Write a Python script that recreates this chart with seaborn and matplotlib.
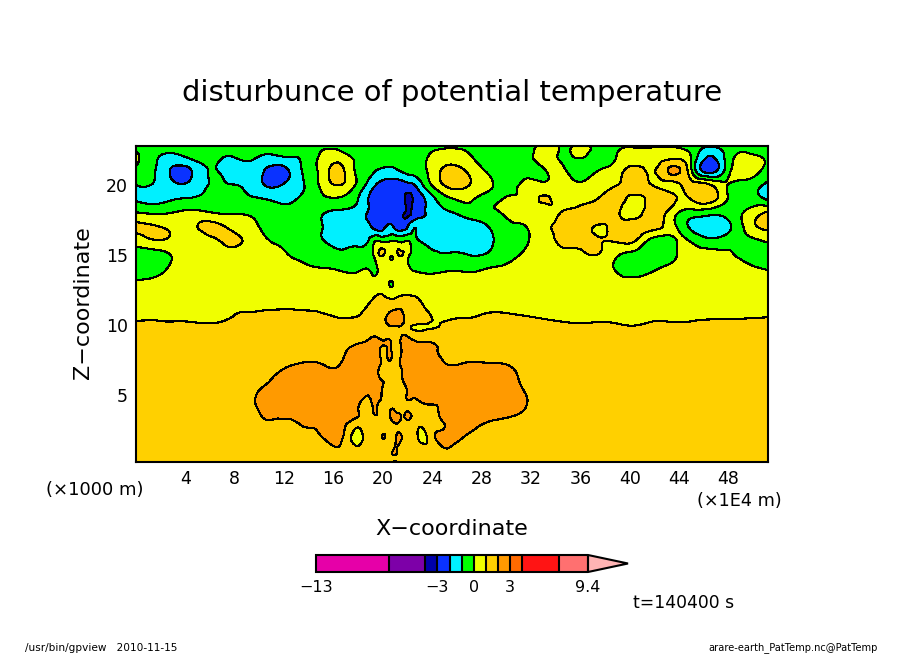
import numpy as np
import matplotlib
matplotlib.use("Agg")
import matplotlib.pyplot as plt
import matplotlib.tri as mtri
import seaborn as sns

# grid nodes
x_nodes = [0, 1.5, 3, 4.5, 6, 7.5, 9, 10.5, 12, 13.5,
           15, 16.5, 18, 19, 19.5, 20, 20.5, 21, 21.5, 22,
           22.5, 23, 24, 25.5, 27, 28.5, 30, 31.5, 33, 34.5,
           36, 37.5, 39, 40.5, 42, 44, 45, 46.5, 48, 49.5, 51.2]
z_nodes = [22.8, 22, 21, 20, 19, 18, 17, 16, 15, 14, 13, 12, 11, 10, 9, 8, 7, 6, 5, 4, 3, 2, 1, 0.2]

# potential temperature disturbance, one list per height
z228 = [-.4,-.4,-.4,-.4,-.4,-.4,-.4,-.3,-.4,-.4,
        -.2,-.1,-.4,-.5,-.5,-.5,-.5,-.5,-.5,-.4,
        -.4,-.3,-.2,-.1,-.1,-.4,-.5,-.5,.3,-.1,
        .2,-.4,-.2,-.1,-.1,-.1,-.4,-.9,-.4,-.2,-.3]
z22 = [.2,-.8,-1.3,-.8,-.6,-1.05,-.8,-1.2,-1.05,-.9,
       .2,.5,-.3,-.6,-.7,-.7,-.7,-.7,-.6,-.5,
       -.4,-.3,.2,.5,.1,-.3,-.5,-.5,.4,-.1,
       .05,-.4,.05,.4,.5,.8,-.1,-2.1,-.5,.2,-.1]
z21 = [-.3,-.95,-2.2,-2.02,-.95,-1.3,-1.3,-2.1,-2.3,-.95,
       .3,1.3,-.3,-.8,-1.05,-1.2,-1.3,-1.2,-.95,-.7,
       -.6,-.4,.4,1.4,.8,-.1,-.5,-.3,-.1,.15,
       -.4,.05,.6,1.4,.95,2.1,.1,-2.4,-.3,.4,-.3]
z20 = [-1.,-1.1,-1.8,-1.7,-.95,-.95,-1.2,-2.05,-1.9,-1.1,
       .2,1.,-.3,-1.5,-2.1,-2.5,-2.6,-2.6,-2.5,-2.3,
       -2.1,-1.4,.05,1.3,1.,.2,-.2,.15,.2,.3,
       .2,.6,1.,1.4,.9,.9,1.4,1.1,-.05,-.4,-1.3]
z19 = [-1.1,-1.3,-1.05,-.9,-.8,-.7,-.85,-1.,-1.2,-.8,
       -.2,-.1,-1.,-2.2,-2.6,-2.7,-2.7,-2.7,-2.7,-3.2,
       -2.9,-2.4,-1.3,-.1,.1,-.2,.05,.3,1.1,.6,
       .7,1.05,1.3,.8,1.4,.9,1.05,1.5,-.1,-.5,-1.2]
z18 = [.1,-.1,.05,.3,.1,-.05,-.1,-.4,-.7,-.8,
       -.9,-1.3,-1.5,-2.2,-2.5,-2.7,-2.4,-2.6,-2.8,-3.1,
       -2.8,-2.3,-1.6,-1.1,-.4,-.2,.1,.3,.5,1.05,
       1.4,1.5,1.1,.7,1.5,-.1,-.5,-.7,-.6,.2,1.2]
z17 = [1.2,1.1,.8,.8,1.3,.9,.4,-.2,-.5,-.7,
       -.95,-1.5,-1.6,-1.9,-2.4,-2.3,-1.8,-2.2,-2.4,-2.,
       -1.1,-1.3,-1.4,-1.7,-1.8,-1.05,-.3,-.05,.7,1.3,
       1.5,.9,1.3,1.5,1.3,-.2,-1.2,-1.7,-1.2,.3,1.3]
z16 = [.4,.9,.8,.5,.7,1.2,.8,.1,-.2,-.5,
       -.9,-1.3,-1.3,-.7,.05,-.2,-.1,.05,-.2,.05,
       -.6,-1.,-1.5,-1.5,-1.6,-1.2,-.6,-.1,.5,1.2,
       1.3,1.05,1.1,.95,-.5,.1,-.1,-.7,-.4,-.2,.1]
z15 = [-.4,-.5,.1,.4,.5,.7,.6,.4,.1,-.2,
       -.4,-.8,-.7,-.3,.6,1.05,.2,.5,1.05,.3,
       -.3,-.5,-.8,-.9,-1.,-.9,-.35,.1,.4,.7,
       .8,.95,.1,-.5,-.8,.1,.3,.3,.1,-.2,-.5]
z14 = [-.6,-.4,.2,.4,.5,.5,.5,.4,.4,.2,
       .05,-.1,-.15,-.1,-.1,.5,.6,.6,.6,.2,
       -.1,-.2,-.3,-.1,-.2,.05,.2,.4,.5,.5,
       .5,.4,-.1,-.5,-.1,.4,.4,.4,.4,.2,-.05]
z13 = [.2,.3,.5,.5,.5,.5,.5,.5,.5,.5,
       .5,.5,.5,.5,.4,.5,0,.2,.5,.5,
       .5,.5,.5,.5,.5,.5,.5,.5,.5,.5,
       .5,.5,.3,.3,.4,.5,.5,.5,.5,.5,.5]
z12 = [.6,.6,.6,.6,.6,.6,.6,.6,.6,.6,
       .6,.6,.6,.9,1.05,1.1,.9,.9,1.1,1.1,
       1.05,.9,.7,.6,.6,.6,.6,.6,.6,.6,
       .6,.6,.6,.6,.6,.6,.6,.6,.6,.6,.6]
z11 = [.53,.7,.53,.4,.4,.8,.98,1.02,1.05,1.02,
       .95,.7,.8,1.3,1.4,1.5,1.9,2.1,2.05,1.5,
       1.4,1.25,.9,.7,.8,.95,.95,.9,.85,.8,
       .8,.75,.7,.65,.7,.7,.7,.75,.75,.8,.85]
z10 = [1.2,1.2,1.2,1.2,1.1,1.2,1.2,1.2,1.2,1.2,
       1.2,1.2,1.1,1.3,1.4,1.5,2.05,2.15,2.05,1.4,
       1.,.95,.95,1.15,1.2,1.25,1.25,1.2,1.15,1.1,
       1.05,1.1,1.05,.98,1.15,1.1,1.15,1.2,1.2,1.2,1.2]
z9 = [1.5,1.5,1.5,1.5,1.5,1.5,1.5,1.5,1.5,1.5,
      1.5,1.6,1.7,2.1,2.2,1.9,2.,1.6,2.1,2.2,
      1.9,1.8,1.8,1.6,1.5,1.5,1.5,1.5,1.5,1.5,
      1.5,1.5,1.5,1.5,1.5,1.5,1.5,1.5,1.5,1.5,1.5]
z8 = [1.5,1.5,1.5,1.5,1.5,1.5,1.5,1.5,1.6,1.7,
      1.7,1.85,2.3,2.5,2.4,1.8,2.1,1.7,2.,2.5,
      2.3,2.2,2.1,1.8,1.7,1.6,1.6,1.5,1.5,1.5,
      1.5,1.5,1.5,1.5,1.5,1.5,1.5,1.5,1.5,1.5,1.5]
z7 = [1.5,1.5,1.5,1.5,1.5,1.5,1.6,1.7,1.95,2.15,
      2.1,2.05,2.5,2.5,2.3,1.7,1.6,1.6,2.05,2.4,
      2.5,2.5,2.4,2.05,2.2,2.2,2.1,1.7,1.5,1.5,
      1.5,1.5,1.5,1.5,1.5,1.5,1.5,1.5,1.5,1.5,1.5]
z6 = [1.5,1.5,1.5,1.5,1.5,1.5,1.6,1.9,2.3,2.4,
      2.4,2.5,2.5,2.4,2.1,2.,1.8,1.7,1.9,2.3,
      2.5,2.5,2.6,2.6,2.6,2.5,2.4,1.8,1.5,1.5,
      1.5,1.5,1.5,1.5,1.5,1.5,1.5,1.5,1.5,1.5,1.5]
z5 = [1.5,1.5,1.5,1.5,1.5,1.5,1.7,2.3,2.5,2.5,
      2.5,2.4,2.3,2.05,2.2,1.9,1.7,1.7,1.7,2.05,
      2.05,2.3,2.5,2.6,2.6,2.5,2.5,2.05,1.5,1.5,
      1.5,1.5,1.5,1.5,1.5,1.5,1.5,1.5,1.5,1.5,1.5]
z4 = [1.5,1.5,1.5,1.5,1.5,1.5,1.7,2.2,2.4,2.4,
      2.5,2.3,2.,1.9,2.,1.7,1.9,1.9,1.7,1.9,
      1.7,1.75,1.85,2.6,2.6,2.6,2.5,2.,1.5,1.5,
      1.5,1.5,1.5,1.5,1.5,1.5,1.5,1.5,1.5,1.5,1.5]
z3 = [1.5,1.5,1.5,1.5,1.5,1.5,1.5,1.9,1.8,2.1,
      2.4,2.5,1.5,1.5,1.5,1.6,1.6,2.05,1.7,1.7,
      1.5,1.5,1.6,2.4,2.4,1.95,1.7,1.5,1.5,1.5,
      1.5,1.5,1.5,1.5,1.5,1.5,1.5,1.5,1.5,1.5,1.5]
z2 = [1.5,1.5,1.5,1.5,1.5,1.5,1.5,1.5,1.5,1.6,
      1.95,2.4,.7,1.4,1.4,2.05,1.6,1.9,2.05,1.5,
      1.5,.8,1.7,2.3,1.9,1.6,1.5,1.5,1.5,1.5,
      1.5,1.5,1.5,1.5,1.5,1.5,1.5,1.5,1.5,1.5,1.5]
z1 = [1.5,1.5,1.5,1.5,1.5,1.5,1.5,1.5,1.5,1.5,
      1.6,1.9,1.5,1.5,1.5,1.5,1.5,2.1,1.5,1.5,
      1.5,1.5,1.6,1.9,1.6,1.5,1.5,1.5,1.5,1.5,
      1.5,1.5,1.5,1.5,1.5,1.5,1.5,1.5,1.5,1.5,1.5]
z02 = [1.5,1.5,1.5,1.5,1.5,1.5,1.5,1.5,1.5,1.5,
       1.5,1.5,1.5,1.5,1.5,1.5,1.5,2.1,1.5,1.5,
       1.5,1.5,1.5,1.5,1.5,1.5,1.5,1.5,1.5,1.5,
       1.5,1.5,1.5,1.5,1.5,1.5,1.5,1.5,1.5,1.5,1.5]

levels = [-13, -7, -4, -3, -2, -1, 0, 1, 2, 3, 4, 7, 9.4]
band_colors = ["#e600a8", "#7d00a8", "#0000aa", "#0a32ff", "#00f0ff", "#00ff00", "#f0ff00",
               "#ffd000", "#ff9a00", "#ff6a00", "#ff1414", "#ff7070", "#ffb4b4"]
cbar_ticks = [-13, -3, 0, 3, 9.4]
x_ticks = [4, 8, 12, 16, 20, 24, 28, 32, 36, 40, 44, 48]
z_ticks = [5, 10, 15, 20]

sns.set_theme(style="ticks", rc={"axes.linewidth": 1.5, "axes.edgecolor": "black", "text.color": "black",
                                 "xtick.color": "black", "ytick.color": "black"})
plt.rcParams["font.family"] = ["DejaVu Sans"]
W, H = 904, 654


def fig_text(fig, px, py, s, **kw):
    fig.text(px / W, 1 - py / H, s, ha="center", va="center", color="black", **kw)


field = np.array([z228, z22, z21, z20, z19, z18, z17, z16, z15, z14, z13, z12, z11, z10,
                  z9, z8, z7, z6, z5, z4, z3, z2, z1, z02])

# smooth the contours with matplotlib's own refiner
xx, zz = np.meshgrid(x_nodes, z_nodes)
tri = mtri.Triangulation(xx.ravel(), zz.ravel())
fine_tri, fine_field = mtri.UniformTriRefiner(tri).refine_field(field.ravel(), subdiv=3)

fig = plt.figure(figsize=(W / 100, H / 100), dpi=100, facecolor="white")
ax = fig.add_axes([136 / W, 1 - 462 / H, 632 / W, 316 / H])

cf = ax.tricontourf(fine_tri, fine_field, levels=levels, colors=sns.color_palette(band_colors),
                    extend="max", antialiased=False)
ax.tricontour(fine_tri, fine_field, levels=levels, colors="black", linewidths=0.8,
              linestyles="solid", antialiased=False)

ax.set_xlim(0, 51.2)
ax.set_ylim(0.2, 22.8)
ax.set_xticks(x_ticks)
ax.set_xticks(np.arange(2, 51, 4), minor=True)
ax.set_yticks(z_ticks)
ax.set_yticks(np.arange(1, 23), minor=True)
ax.tick_params(which="major", direction="in", length=7, width=1.5, top=True, right=True, labelsize=12.5, pad=6)
ax.tick_params(which="minor", direction="in", length=3.5, width=1, top=True, right=True)

fig_text(fig, 452, 93, "disturbunce of potential temperature", fontsize=20.9)
fig_text(fig, 452, 529, "X\u2212coordinate", fontsize=16)
fig_text(fig, 83, 303, "Z\u2212coordinate", fontsize=16, rotation=90)
fig_text(fig, 95, 490, "(\u00d71000 m)", fontsize=13)
fig_text(fig, 739, 501, "(\u00d71E4 m)", fontsize=12.7)
fig_text(fig, 684, 603, "t=140400 s", fontsize=12.3)
fig_text(fig, 101, 648, "/usr/bin/gpview   2010-11-15", fontsize=7.6)
fig_text(fig, 793, 648, "arare-earth_PatTemp.nc@PatTemp", fontsize=7.1)

cax = fig.add_axes([316 / W, 1 - 572 / H, 312 / W, 17 / H])
cb = fig.colorbar(cf, cax=cax, orientation="horizontal", spacing="proportional",
                  extend="max", extendfrac=0.147, drawedges=True, ticks=cbar_ticks)
cb.outline.set_linewidth(1.5)
cb.dividers.set_linewidth(1.5)
cb.dividers.set_color("black")
cb.ax.tick_params(length=0, labelsize=11.5, pad=6)
cb.ax.set_xticklabels(["\u221213", "\u22123", "0", "3", "9.4"])

fig.savefig("out.png", dpi=100)
